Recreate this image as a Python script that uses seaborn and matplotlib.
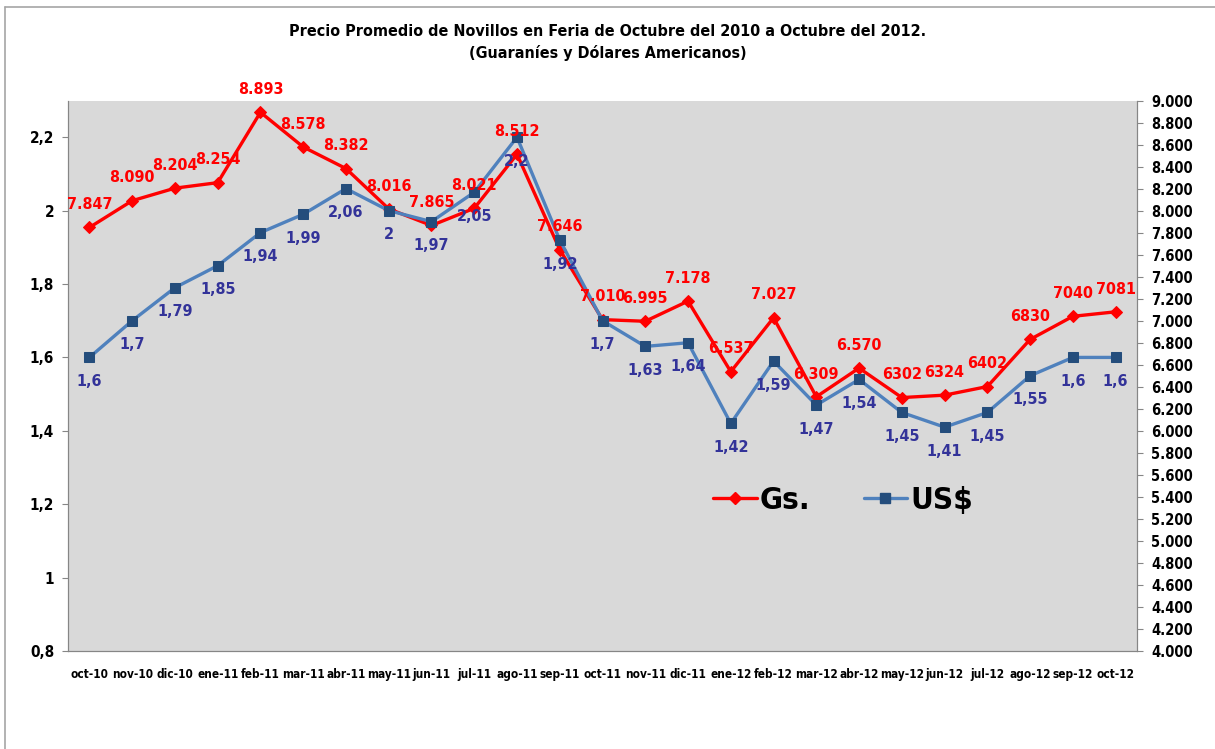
import pandas as pd
import matplotlib
matplotlib.use("Agg")
import matplotlib.pyplot as plt
import seaborn as sns
from matplotlib.lines import Line2D

# data
months = ["oct-10", "nov-10", "dic-10", "ene-11", "feb-11", "mar-11", "abr-11",
          "may-11", "jun-11", "jul-11", "ago-11", "sep-11", "oct-11", "nov-11",
          "dic-11", "ene-12", "feb-12", "mar-12", "abr-12", "may-12", "jun-12",
          "jul-12", "ago-12", "sep-12", "oct-12"]
gs = [7847, 8090, 8204, 8254, 8893, 8578, 8382, 8016, 7865, 8021, 8512, 7646,
      7010, 6995, 7178, 6537, 7027, 6309, 6570, 6302, 6324, 6402, 6830, 7040, 7081]
usd = [1.6, 1.7, 1.79, 1.85, 1.94, 1.99, 2.06, 2.0, 1.97, 2.05, 2.2, 1.92,
       1.7, 1.63, 1.64, 1.42, 1.59, 1.47, 1.54, 1.45, 1.41, 1.45, 1.55, 1.6, 1.6]
# the source stops using the thousands separator from may-12 onwards
n_dotted = 19

df = pd.DataFrame({"mes": months, "Gs.": gs, "US$": usd})

sns.set_style("white")
narrow = ["Liberation Sans Narrow", "DejaVu Sans"]
plt.rcParams["font.family"] = narrow
plt.rcParams["font.stretch"] = "condensed"
plt.rcParams["text.color"] = "black"
plt.rcParams["xtick.color"] = "black"
plt.rcParams["ytick.color"] = "black"

fig = plt.figure(figsize=(12.15, 7.49), dpi=100)
ax = fig.add_axes([0.056, 0.1308, 0.8798, 0.735])
ax.set_facecolor("#D9D9D9")
ax2 = ax.twinx()

red = "#FF0000"
blue = "#4F81BD"
navy = "#244D7C"
lbl_blue = "#333399"

# Gs. on the base axes (drawn underneath), scale shown on the right
sns.lineplot(data=df, x="mes", y="Gs.", ax=ax, color=red, lw=2.4,
             marker="D", markersize=6.5, markeredgecolor=red, sort=False)
ax.set_ylim(4000, 9000)

# US$ on the twin axes (drawn on top), scale shown on the left
sns.lineplot(data=df, x="mes", y="US$", ax=ax2, color=blue, lw=2.4,
             marker="s", markersize=7.5, markerfacecolor=navy,
             markeredgecolor=navy, sort=False)
ax2.set_ylim(0.8, 2.3)

ax.yaxis.tick_right()
ax2.yaxis.tick_left()
ax.set_yticks(range(4000, 9001, 200))
ax.set_yticklabels([f"{v:,}".replace(",", ".") for v in range(4000, 9001, 200)])
ticks_l = [0.8, 1.0, 1.2, 1.4, 1.6, 1.8, 2.0, 2.2]
ax2.set_yticks(ticks_l)
ax2.set_yticklabels([f"{v:g}".replace(".", ",") for v in ticks_l])

ax.set_xlim(-0.5, len(months) - 0.5)
ax.set_xticks(range(len(months)))
ax.set_xticklabels(months)
ax.set_xticks([i - 0.5 for i in range(len(months) + 1)], minor=True)
ax.tick_params(axis="x", which="major", length=0, pad=12, labelsize=8.5)
ax.tick_params(axis="x", which="minor", length=5, color="#868686", direction="out")
ax.tick_params(axis="y", length=4, color="#868686", labelsize=10.5, pad=6)
ax2.tick_params(axis="y", length=4, color="#868686", labelsize=11, pad=6)
for t in ax.get_xticklabels() + ax.get_yticklabels() + ax2.get_yticklabels():
    t.set_fontweight("bold")
for a in (ax, ax2):
    a.set_xlabel("")
    a.set_ylabel("")
    for s in a.spines.values():
        s.set_color("#868686")
    a.spines["top"].set_visible(False)

# value labels, all on the top axes so they sit above both lines
for i, v in enumerate(gs):
    txt = f"{v:,}".replace(",", ".") if i < n_dotted else str(v)
    ax2.annotate(txt, (i, v), xycoords=ax.transData, xytext=(0, 11),
                 textcoords="offset points", ha="center", va="bottom",
                 color=red, fontsize=11.5, fontweight="bold")
for i, v in enumerate(usd):
    ax2.annotate(f"{v:g}".replace(".", ","), (i, v), xytext=(0, -12),
                 textcoords="offset points", ha="center", va="top",
                 color=lbl_blue, fontsize=11.5, fontweight="bold")

handles = [Line2D([], [], color=red, lw=2.4, marker="D", markersize=6.5),
           Line2D([], [], color=blue, lw=2.4, marker="s", markersize=7.5,
                  markerfacecolor=navy, markeredgecolor=navy)]
leg = ax2.legend(handles, ["Gs.", "US$"], loc="center", bbox_to_anchor=(0.725, 0.274),
                 ncol=2, frameon=False, handlelength=1.4, handletextpad=0.1,
                 columnspacing=1.7,
                 prop={"family": narrow, "weight": "bold", "size": 22.5,
                       "stretch": "condensed"})

fig.suptitle("Precio Promedio de Novillos en Feria de Octubre del 2010 a Octubre del 2012.\n"
             "(Guaraníes y Dólares Americanos)", y=0.968, fontsize=11.5,
             fontweight="bold", linespacing=1.5)

# outer chart frame (left and top edges are visible in the source)
fig.add_artist(Line2D([0.0045, 0.0045], [0.0, 0.9905], color="#A6A6A6", lw=1.2))
fig.add_artist(Line2D([0.0045, 1.0], [0.9905, 0.9905], color="#A6A6A6", lw=1.2))

fig.savefig("out.png", dpi=100)
